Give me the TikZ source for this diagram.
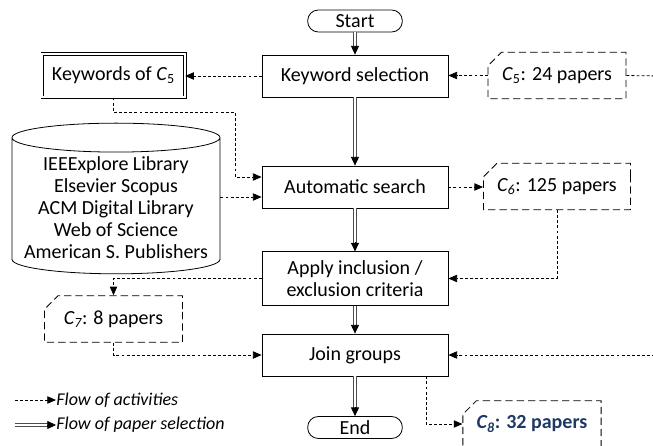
\documentclass[tikz,border=0pt]{standalone}
\usepackage{fontspec}
\setmainfont{Carlito}
\usepackage{tikz}
\usetikzlibrary{shapes, arrows.meta, positioning, calc}
\definecolor{darkblue}{RGB}{31,56,100}

\begin{document}
\begin{tikzpicture}[x=0.75pt, y=-0.75pt, font=\fontsize{15}{16.5}\selectfont,
        box/.style={draw, rectangle, line width=0.6pt, minimum width=139.5pt, minimum height=31.5pt, align=center, inner sep=1pt},
        term/.style={draw, rectangle, line width=0.6pt, rounded corners=8pt, minimum width=71pt, minimum height=16.5pt, inner sep=0pt},
        card/.style={draw, chamfered rectangle, chamfered rectangle corners=north west, chamfered rectangle xsep=7pt, line width=0.6pt, dash pattern=on 5.5pt off 3pt, minimum width=103.5pt, minimum height=35pt},
        act/.style={-{Triangle[length=6.5pt,width=5.5pt]}, line width=0.6pt, dash pattern=on 2.2pt off 1.6pt},
        sel/.style={draw=black!70, line width=2.3pt, postaction={draw=white, line width=1.1pt}},
        seltip/.style={-{Triangle[length=6.5pt,width=6pt]}, line width=0.6pt},
        legend/.style={right, inner sep=0pt, font=\fontsize{13.5}{15}\selectfont\itshape}]
        \useasboundingbox (0,0) rectangle (653,446);
        \clip (0,0) rectangle (653,446);

        % main column
        \node (start) [term] at (355,21) {Start};
        \node (kw) [box] at (355,76) {Keyword selection};
        \node (auto) [box] at (355,187) {Automatic search};
        \node (apply) [box, minimum height=40pt] at (355,278.5) {Apply inclusion /\\exclusion criteria};
        \node (join) [box] at (355,355) {Join groups};
        \node (end) [term] at (355,427.5) {End};

        % side nodes
        \node (kwc5) [draw, rectangle, line width=0.5pt, double, double distance=1.5pt, minimum width=107pt, minimum height=32.5pt] at (113.5,75.5) {Keywords of \textit{C}\textsubscript{5}};
        \node (db) [draw, cylinder, shape border rotate=90, aspect=0.15, line width=0.6pt, align=center, minimum width=156pt, minimum height=113pt] at (116,208) {IEEExplore Library\\Elsevier Scopus\\ACM Digital Library\\Web of Science\\American S. Publishers};
        \node (c5) [card] at (557,75.5) {\textit{C}\textsubscript{5}: 24 papers};
        \node (c6) [card] at (557,186.5) {\textit{C\textsubscript{6}}: 125 papers};
        \node (c7) [card] at (113.5,319) {\textit{C\textsubscript{7}}: 8 papers};
        \node (c8) [card, text=darkblue, font=\fontsize{15}{16.5}\selectfont\bfseries] at (532,424) {\textit{C\textsubscript{8}}: 32 papers};

        \coordinate (k1) at (235,112);
        \coordinate (a1) at ($(auto.west)+(0,-10)$);
        \coordinate (a2) at ($(auto.west)+(0,10)$);
        \coordinate (off1) at (660,76);
        \coordinate (off2) at (660,355);

        % flow of paper selection
        \foreach \a/\b in {start/kw, kw/auto, auto/apply, apply/join, join/end} {
            \draw[sel] (\a) -- ($(\b.north)+(0,-5)$);
            \draw[seltip] ($(\b.north)+(0,-9)$) -- (\b.north);
        }

        % flow of activities
        \draw[act] (kw.west) -- (kw.west -| kwc5.east);
        \draw[act] (c5.west) -- (c5.west -| kw.east);
        \draw[act, -] (c5.east) -- (off1);
        \draw[act] (kwc5.south) |- (k1) |- (a1);
        \draw[act] (db.east |- a2) -- (a2);
        \draw[act] (auto.east) -- (auto.east -| c6.west);
        \draw[act] (c6.south) |- (apply.east);
        \draw[act] (apply.west) -| (c7.north);
        \draw[act] (c7.south) |- (join.west);
        \draw[act] (off2) -- (join.east);
        \draw[act] ($(join.south)+(71,0)$) |- (c8.west);

        % legend
        \coordinate (la) at (15,400);
        \coordinate (lb) at (56,400);
        \coordinate (lc) at (15,425);
        \coordinate (ld) at (56,425);
        \draw[act] (la) -- (lb) node (leg1) [legend] {Flow of activities};
        \draw[sel] (lc) -- ($(ld)+(-5,0)$);
        \draw[seltip] ($(ld)+(-9,0)$) -- (ld) node (leg2) [legend] {Flow of paper selection};
    \end{tikzpicture}
\end{document}
